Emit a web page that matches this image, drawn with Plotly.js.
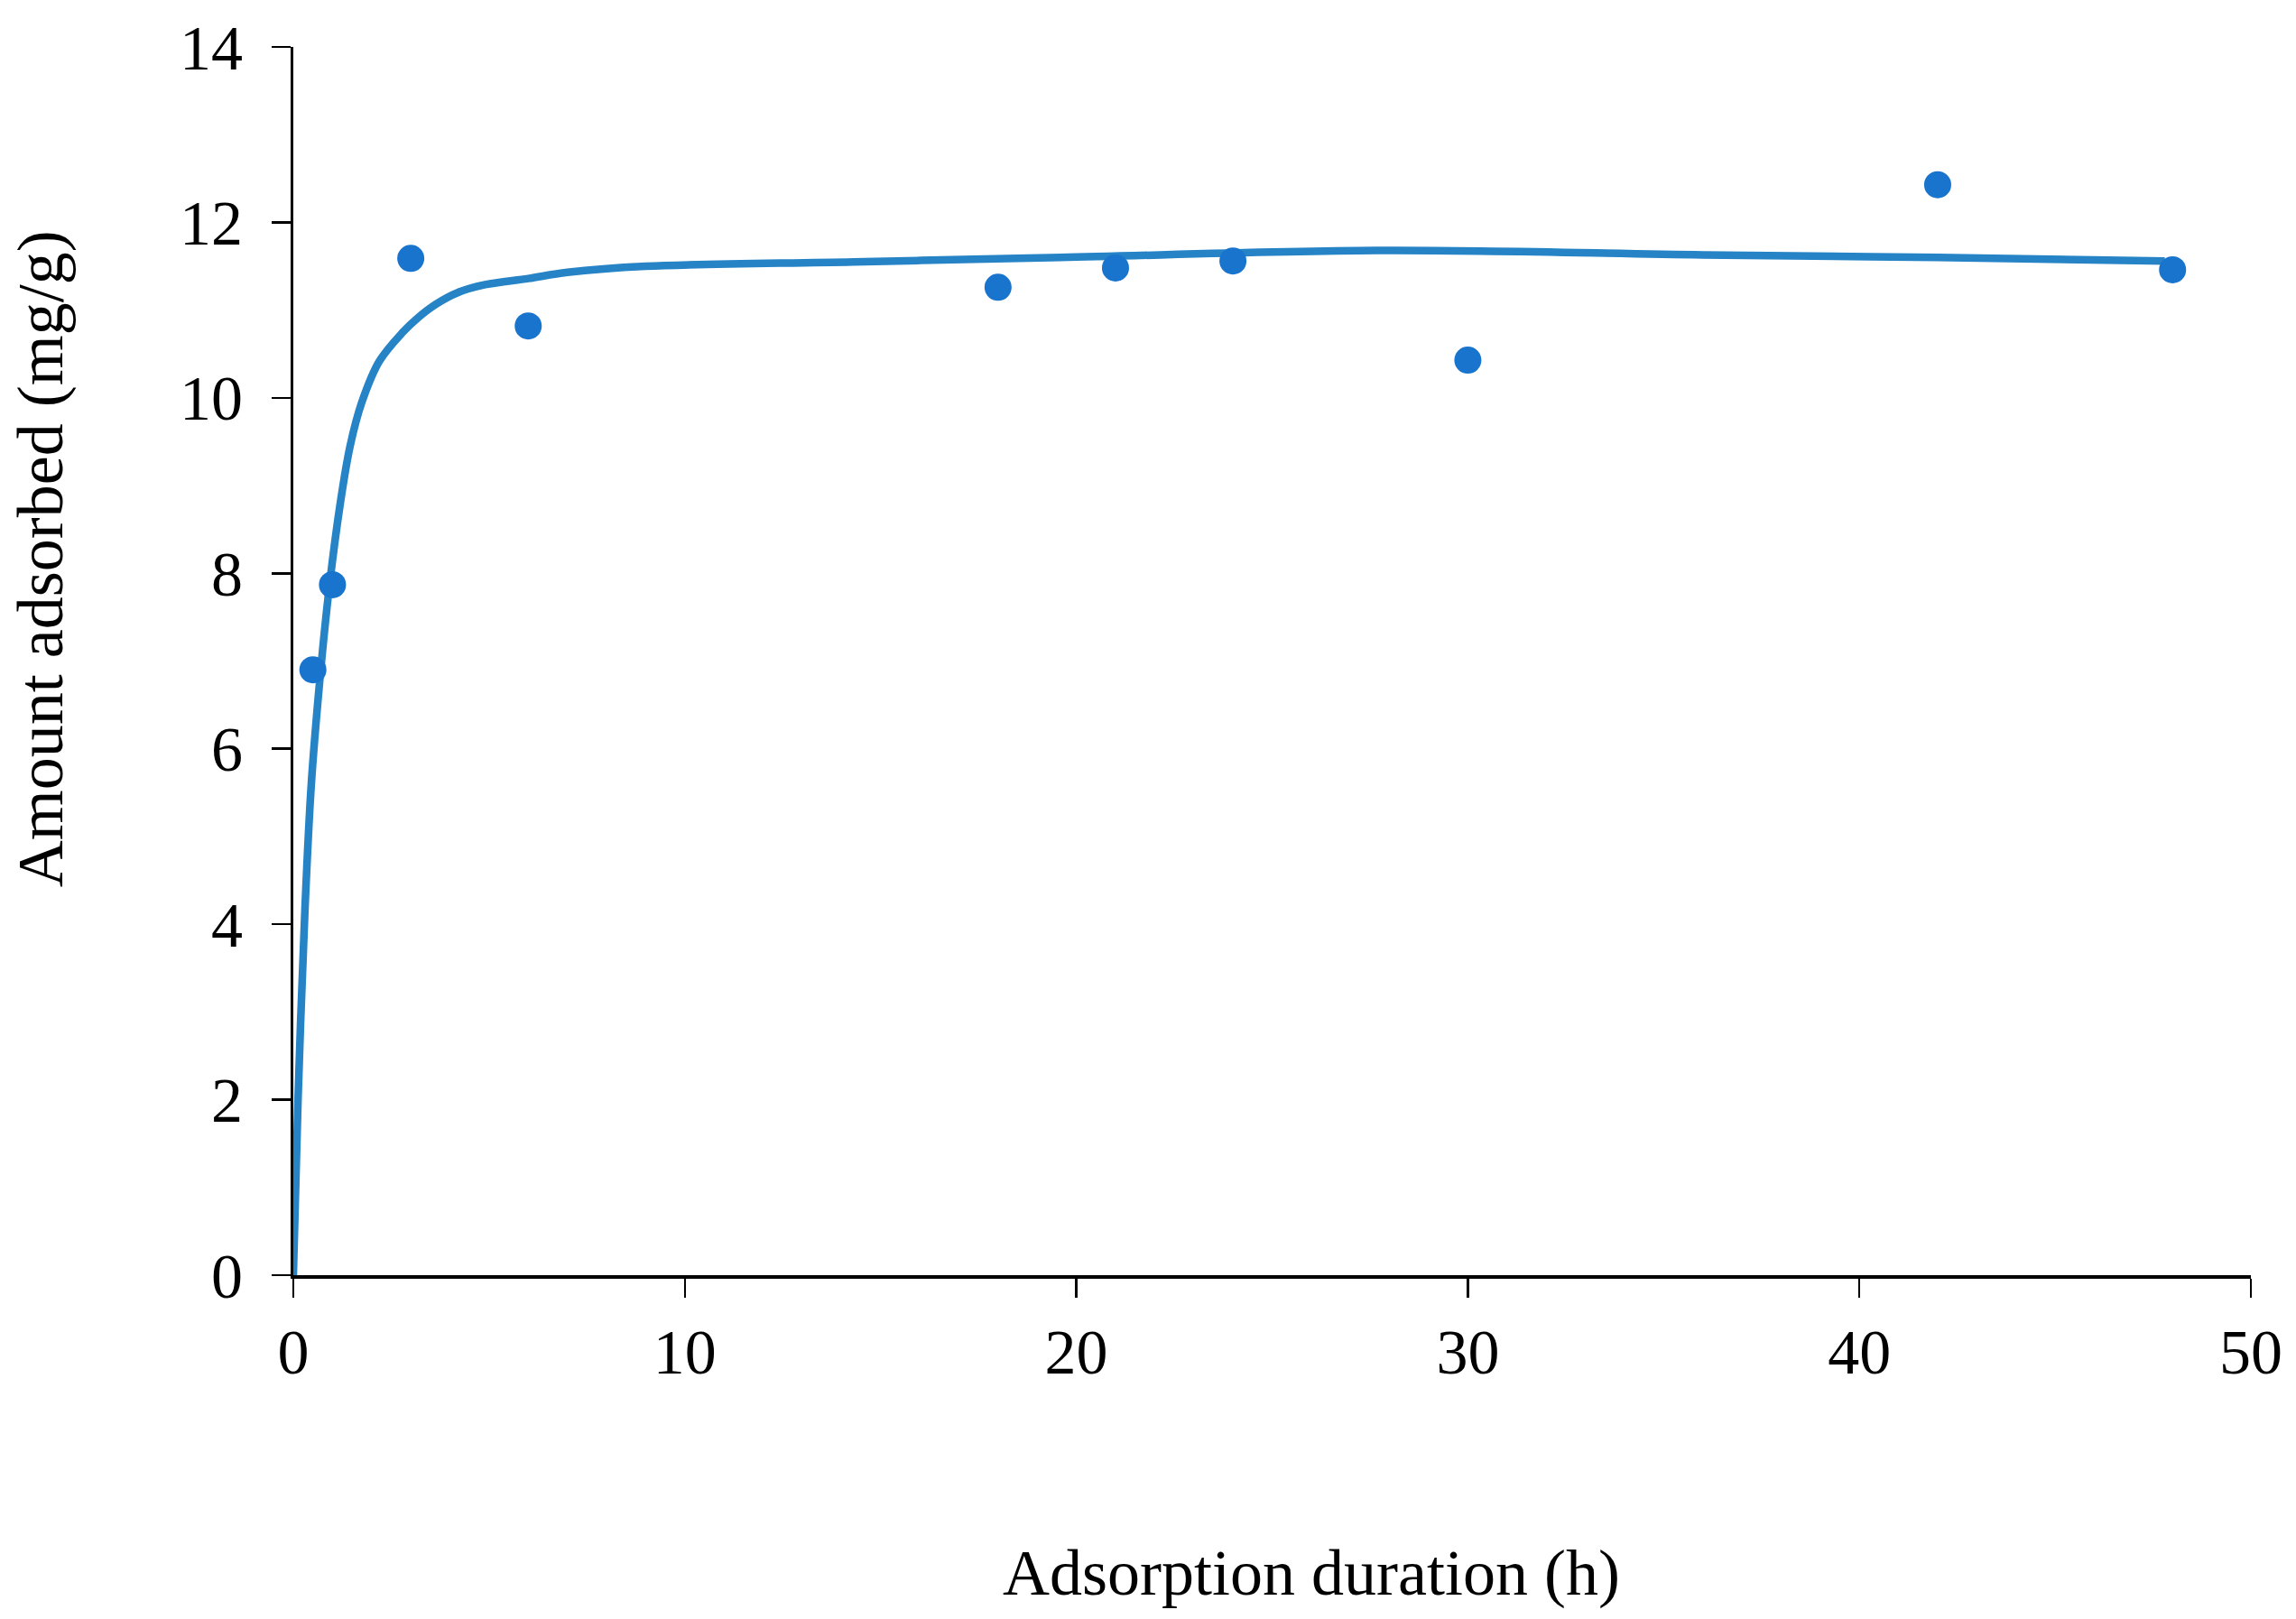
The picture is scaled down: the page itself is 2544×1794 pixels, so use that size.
<!DOCTYPE html>
<html>
<head>
<meta charset="utf-8">
<script src="https://cdn.plot.ly/plotly-3.0.1.min.js"></script>
<style>html,body{margin:0;padding:0;background:#fff;}#chart{width:2544px;height:1794px;}</style>
</head>
<body>
<div id="chart"></div>
<script>
// Measured data points
const timeH = [0.5, 1, 3, 6, 18, 21, 24, 30, 42, 48];
const amountMgG = [6.90, 7.87, 11.59, 10.82, 11.26, 11.48, 11.56, 10.43, 12.43, 11.46];

// Fitted curve
const fitTime = [0, 0.12, 0.3, 0.46, 0.69, 0.92, 1.2, 1.45, 1.75, 2.2, 2.8, 3.2, 3.65, 4.2, 4.9, 6.0, 7.0, 9.0, 14.3, 19.6, 27.8, 36, 42, 47.8];
const fitAmount = [0, 2.0, 4.2, 5.6, 6.85, 7.85, 8.8, 9.45, 9.95, 10.42, 10.75, 10.92, 11.07, 11.2, 11.29, 11.36, 11.43, 11.5, 11.55, 11.60, 11.68, 11.63, 11.60, 11.56];

const xTicks = [0, 10, 20, 30, 40, 50];
const yTicks = [0, 2, 4, 6, 8, 10, 12, 14];
const xTitle = 'Adsorption duration (h)';
const yTitle = 'Amount adsorbed (mg/g)';

const FONT = 'Liberation Serif, Times New Roman, serif';

const traces = [
  {
    x: fitTime, y: fitAmount, type: 'scatter', mode: 'lines',
    line: {color: '#2683C6', width: 8.5, shape: 'spline', smoothing: 1.0},
    hoverinfo: 'skip', showlegend: false
  },
  {
    x: timeH, y: amountMgG, type: 'scatter', mode: 'markers',
    marker: {color: '#1874CD', size: 30, line: {width: 0}},
    showlegend: false
  }
];

const layout = {
  width: 2544, height: 1794,
  margin: {l: 325, r: 50, t: 52, b: 381},
  paper_bgcolor: '#fff', plot_bgcolor: '#fff',
  font: {family: FONT, size: 72, color: '#000'},
  showlegend: false,
  xaxis: {
    range: [0, 50], tickvals: xTicks, ticktext: xTicks.map(String),
    showgrid: false, zeroline: false, showline: true, linecolor: '#000', linewidth: 4,
    ticks: 'outside', ticklen: 21, tickwidth: 2.5, tickcolor: '#000',
    tickfont: {family: FONT, size: 70, color: '#000'}
  },
  yaxis: {
    range: [0, 14], tickvals: yTicks, ticktext: yTicks.map(String),
    showgrid: false, zeroline: false, showline: true, linecolor: '#000', linewidth: 3,
    ticks: 'outside', ticklen: 21, tickwidth: 2.5, tickcolor: '#000',
    ticklabelstandoff: 18,
    tickfont: {family: FONT, size: 70, color: '#000'}
  },
  annotations: [
    {text: xTitle, xref: 'paper', yref: 'paper', x: 0.52, y: -0.2425,
     xanchor: 'center', yanchor: 'middle', showarrow: false,
     font: {family: FONT, size: 72, color: '#000'}},
    {text: yTitle, xref: 'paper', yref: 'paper', x: -0.129, y: 0.5834,
     xanchor: 'center', yanchor: 'middle', showarrow: false, textangle: -90,
     font: {family: FONT, size: 72, color: '#000'}}
  ]
};

Plotly.newPlot('chart', traces, layout, {displayModeBar: false, staticPlot: true});
</script>
</body>
</html>
